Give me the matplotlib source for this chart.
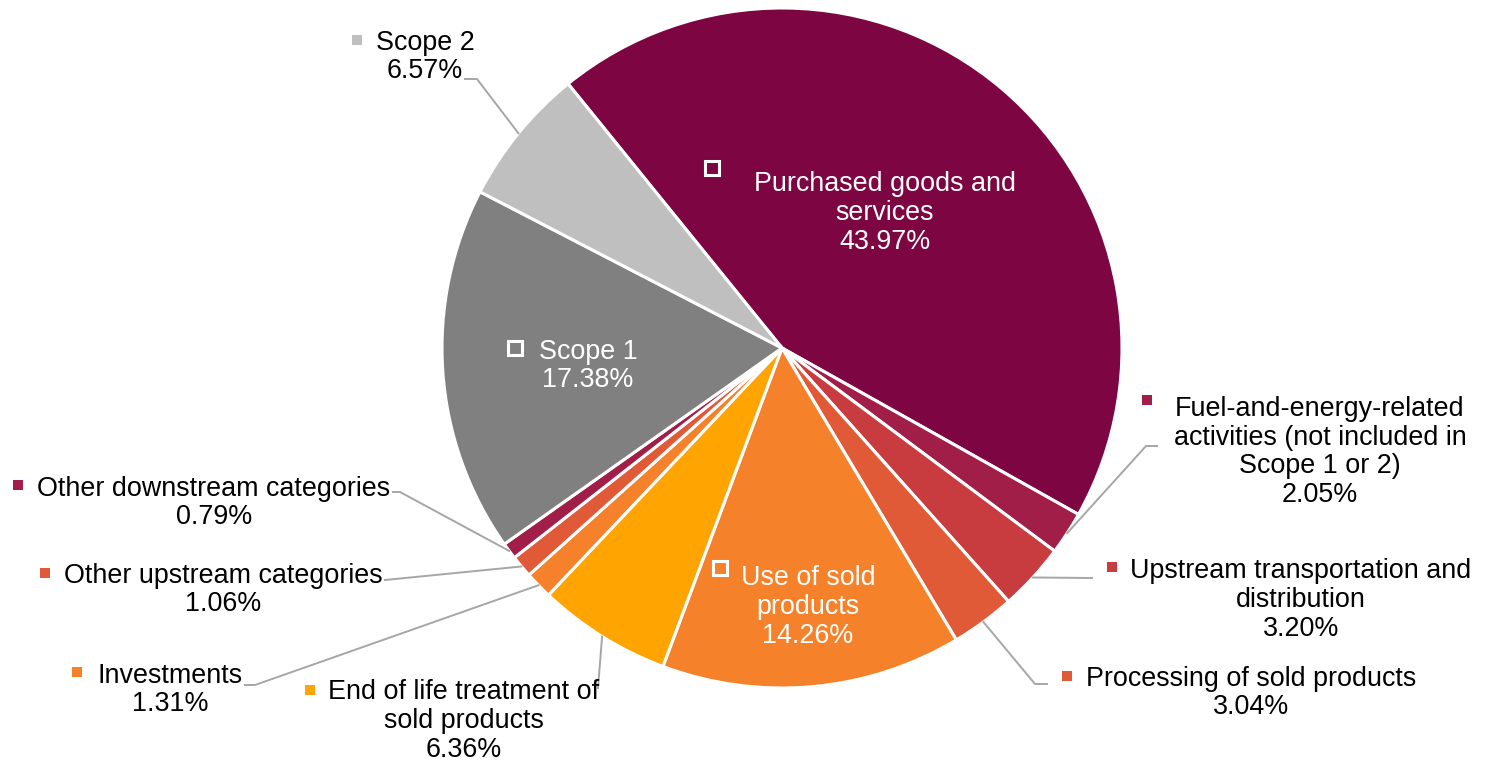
import matplotlib
matplotlib.use('Agg')
import matplotlib.pyplot as plt
import numpy as np

plt.rcParams['font.family'] = ['Liberation Sans', 'DejaVu Sans']

W, H = 1486, 766

categories = [
    'Purchased goods and\nservices',
    'Fuel-and-energy-related\nactivities (not included in\nScope 1 or 2)',
    'Upstream transportation and\ndistribution',
    'Processing of sold products',
    'Use of sold\nproducts',
    'End of life treatment of\nsold products',
    'Investments',
    'Other upstream categories',
    'Other downstream categories',
    'Scope 1',
    'Scope 2',
]
shares = [43.97, 2.05, 3.20, 3.04, 14.26, 6.36, 1.31, 1.06, 0.79, 17.38, 6.57]
colors = ['#7D0642', '#A01E48', '#C83B3E', '#E05A37', '#F5822A', '#FFA400',
          '#F5822A', '#E05A37', '#A01E48', '#808080', '#BFBFBF']

# label layout in pixel coords: text centre, key centre, inside?, leader elbow points
layout = [
    dict(text=(885, 213), key=(712, 168), inside=True),
    dict(text=(1320, 452), key=(1147, 400), leader=[(1146, 446), (1157, 446)]),
    dict(text=(1301, 600), key=(1112, 567), leader=[(1092, 578)]),
    dict(text=(1251, 693), key=(1067, 676), leader=[(1035, 684), (1047, 684)]),
    dict(text=(808, 607), key=(720, 568), inside=True),
    dict(text=(464, 721), key=(310, 690), leader=[(598, 688)]),
    dict(text=(170, 690), key=(77, 672), leader=[(255, 685), (245, 685)]),
    dict(text=(223, 590), key=(45, 573), leader=[(385, 580)]),
    dict(text=(214, 503), key=(18, 485), leader=[(400, 492), (393, 492)]),
    dict(text=(588, 366), key=(515, 348), inside=True),
    dict(text=(425, 57), key=(357, 40), leader=[(477, 79), (465, 79)]),
]


def px(x, y):
    return x, H - y


fig = plt.figure(figsize=(W / 100, H / 100), dpi=100)
ax = fig.add_axes([0, 0, 1, 1])

cx, cy = px(782, 348)
R = 340
wedges, _ = ax.pie(shares, colors=colors, startangle=129, counterclock=False,
                   center=(cx, cy), radius=R,
                   wedgeprops=dict(edgecolor='white', linewidth=2.2))

for w, name, val, lay, col in zip(wedges, categories, shares, layout, colors):
    label = f'{name}\n{val:.2f}%'
    tx, ty = px(*lay['text'])
    kx, ky = px(*lay['key'])
    if lay.get('inside'):
        ax.text(tx, ty, label, ha='center', va='center', color='white',
                fontsize=19.4, linespacing=1.13)
        ax.plot(kx, ky, marker='s', markersize=10, markerfacecolor=col,
                markeredgecolor='white', markeredgewidth=2.2, zorder=5)
    else:
        ax.text(tx, ty, label, ha='center', va='center', color='black',
                fontsize=19.4, linespacing=1.13)
        ax.plot(kx, ky, marker='s', markersize=7.5, color=col,
                markeredgewidth=0, zorder=5)
        mid = np.deg2rad((w.theta1 + w.theta2) / 2)
        pts = [(cx + R * np.cos(mid), cy + R * np.sin(mid))]
        pts += [px(*p) for p in lay['leader']]
        xs, ys = zip(*pts)
        ax.plot(xs, ys, color='#A6A6A6', linewidth=1.4, zorder=1)

ax.set_xlim(0, W)
ax.set_ylim(0, H)
ax.set_aspect('equal')
ax.axis('off')

fig.savefig('out.png', dpi=100)
